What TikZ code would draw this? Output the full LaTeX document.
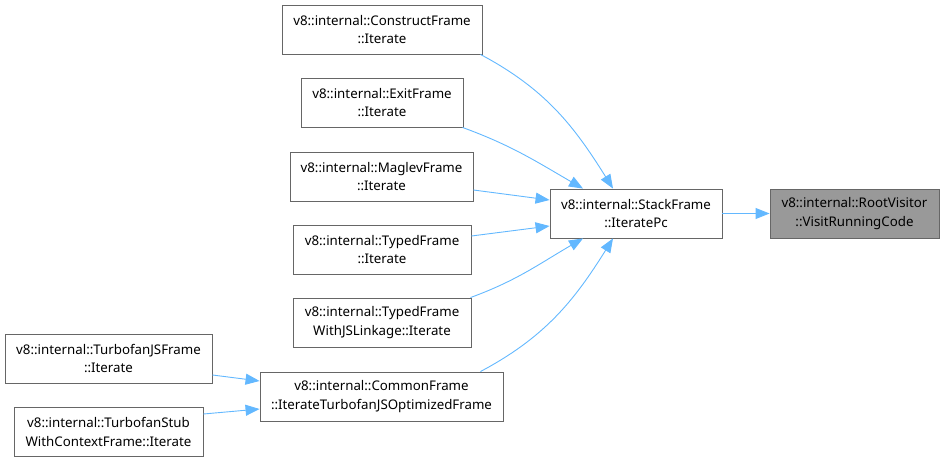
\documentclass[tikz,border=0pt]{standalone}
\usepackage{fontspec}
\setmainfont{Noto Sans}
\usepackage{tikz}
\usetikzlibrary{arrows.meta,positioning}
\definecolor{edgeblue}{HTML}{63B8FF}
\definecolor{nodeline}{HTML}{666666}
\definecolor{rootfill}{HTML}{999999}
\tikzset{
  fn/.style={draw=nodeline, line width=0.9pt, fill=white, align=center,
    minimum height=49pt, inner sep=0pt,
    font=\fontsize{13.3}{18.5}\selectfont},
  rootfn/.style={fn, fill=rootfill},
  call/.style={edgeblue, line width=0.9pt, arrows={-Triangle[length=14pt,width=11pt]}},
}

\begin{document}
\begin{tikzpicture}[x=1pt,y=-1pt]
\useasboundingbox (0,0) rectangle (944,462);
% callee
\node[rootfn, minimum width=169pt] (root) at (854.5,213.5) {v8::internal::RootVisitor\\::VisitRunningCode};
\node[fn, minimum width=172pt] (stack) at (636,213.5) {v8::internal::StackFrame\\::IteratePc};
% callers
\node[fn, minimum width=200pt] (construct) at (382,29.5) {v8::internal::ConstructFrame\\::Iterate};
\node[fn, minimum width=162pt] (exitf) at (382,102.5) {v8::internal::ExitFrame\\::Iterate};
\node[fn, minimum width=183pt] (maglev) at (381.5,176.5) {v8::internal::MaglevFrame\\::Iterate};
\node[fn, minimum width=178pt] (typed) at (382,249.5) {v8::internal::TypedFrame\\::Iterate};
\node[fn, minimum width=178pt] (typedjs) at (382,322.5) {v8::internal::TypedFrame\\WithJSLinkage::Iterate};
\node[fn, minimum width=243pt] (common) at (381.5,396.5) {v8::internal::CommonFrame\\::IterateTurbofanJSOptimizedFrame};
\node[fn, minimum width=207pt] (tfjs) at (108.5,358.5) {v8::internal::TurbofanJSFrame\\::Iterate};
\node[fn, minimum width=189pt] (tfstub) at (108.5,432) {v8::internal::TurbofanStub\\WithContextFrame::Iterate};

\draw[call] (stack) -- (root);
\draw[call] ([xshift=-2pt]construct.south east) to[out=-28,in=122] ([xshift=-23pt]stack.north);
\draw[call] ([xshift=-1pt]exitf.south east) to[out=-20,in=150] ([xshift=-53pt]stack.north);
\draw[call] ([yshift=-13.5pt]maglev.east) -- ([yshift=13.5pt]stack.west);
\draw[call] ([yshift=13.5pt]typed.east) -- ([yshift=-12.5pt]stack.west);
\draw[call] ([xshift=-1pt]typedjs.north east) to[out=20,in=-150] ([xshift=-53pt]stack.south);
\draw[call] ([xshift=-23pt]common.north east) to[out=28,in=-122] ([xshift=-23pt]stack.south);
\draw[call] ([yshift=-16.5pt]tfjs.east) -- ([yshift=15.5pt]common.west);
\draw[call] ([yshift=18pt]tfstub.east) -- ([yshift=-12.5pt]common.west);
\end{tikzpicture}
\end{document}
